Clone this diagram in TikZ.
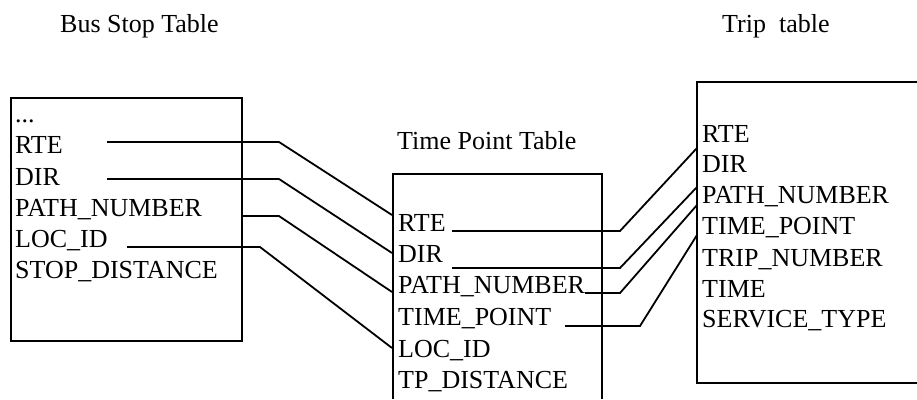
\documentclass[tikz,border=0pt]{standalone}
\usepackage{fontspec}
\setmainfont{Liberation Serif}
\begin{document}
\begin{tikzpicture}[x=1pt,y=-1pt,
  field/.style={anchor=base west, inner sep=0pt, font=\fontsize{26}{31}\selectfont},
  heading/.style={field},
  frame/.style={line width=1.6pt, line join=miter},
  link/.style={line width=1.8pt, line join=miter}]
\useasboundingbox (0,0) rectangle (917,399);

% table headings
\node[heading] (bstitle) at (60,32)   {Bus Stop Table};
\node[heading] (tptitle) at (397,149) {Time Point Table};
\node[heading] (trtitle) at (722,32)  {Trip\ \ table};

% table frames
\node[draw, frame, inner sep=0pt, anchor=north west,
      minimum width=231pt, minimum height=243pt] (bsbox) at (10,97) {};
\coordinate (tpbl) at (393,399);
\coordinate (tptl) at (393,174);
\coordinate (tptr) at (602,174);
\coordinate (tpbr) at (602,399);
\draw[frame] (tpbl) -- (tptl) -- (tptr) -- (tpbr);
\coordinate (trtr) at (917,82);
\coordinate (trtl) at (697,82);
\coordinate (trbl) at (697,383);
\coordinate (trbr) at (917,383);
\draw[frame] (trtr) -- (trtl) -- (trbl) -- (trbr);

% Bus Stop Table fields
\node[field] (bsdots) at (15,122) {...};
\node[field] (bsrte)  at (15,153) {RTE};
\node[field] (bsdir)  at (15,185) {DIR};
\node[field] (bspath) at (15,216) {PATH\_NUMBER};
\node[field] (bsloc)  at (15,247) {LOC\_ID};
\node[field] (bsdist) at (15,278) {STOP\_DISTANCE};

% Time Point Table fields
\node[field] (tprte)  at (398,231) {RTE};
\node[field] (tpdir)  at (398,262) {DIR};
\node[field] (tppath) at (398,293) {PATH\_NUMBER};
\node[field] (tptp)   at (398,325) {TIME\_POINT};
\node[field] (tploc)  at (398,357) {LOC\_ID};
\node[field] (tpdist) at (398,388) {TP\_DISTANCE};

% Trip table fields
\node[field] (trrte)  at (702,142) {RTE};
\node[field] (trdir)  at (702,172) {DIR};
\node[field] (trpath) at (702,203) {PATH\_NUMBER};
\node[field] (trtp)   at (702,234) {TIME\_POINT};
\node[field] (trtrip) at (702,266) {TRIP\_NUMBER};
\node[field] (trtime) at (702,297) {TIME};
\node[field] (trsvc)  at (702,327) {SERVICE\_TYPE};

% Bus Stop -> Time Point links
\coordinate (a1) at (107,142); \coordinate (b1) at (279,142); \coordinate (c1) at (392,215);
\coordinate (a2) at (107,179); \coordinate (b2) at (279,179); \coordinate (c2) at (392,253);
\coordinate (a3) at (241,216); \coordinate (b3) at (279,216); \coordinate (c3) at (392,292);
\coordinate (a4) at (127,247); \coordinate (b4) at (260,247); \coordinate (c4) at (392,348);
\draw[link] (a1) -- (b1) -- (c1);
\draw[link] (a2) -- (b2) -- (c2);
\draw[link] (a3) -- (b3) -- (c3);
\draw[link] (a4) -- (b4) -- (c4);

% Time Point -> Trip links
\coordinate (d1) at (452,231); \coordinate (e1) at (620,231); \coordinate (f1) at (697,148);
\coordinate (d2) at (452,268); \coordinate (e2) at (620,268); \coordinate (f2) at (697,187);
\coordinate (d3) at (585,293); \coordinate (e3) at (620,293); \coordinate (f3) at (697,205);
\coordinate (d4) at (565,326); \coordinate (e4) at (640,326); \coordinate (f4) at (697,235);
\draw[link] (d1) -- (e1) -- (f1);
\draw[link] (d2) -- (e2) -- (f2);
\draw[link] (d3) -- (e3) -- (f3);
\draw[link] (d4) -- (e4) -- (f4);
\end{tikzpicture}
\end{document}
